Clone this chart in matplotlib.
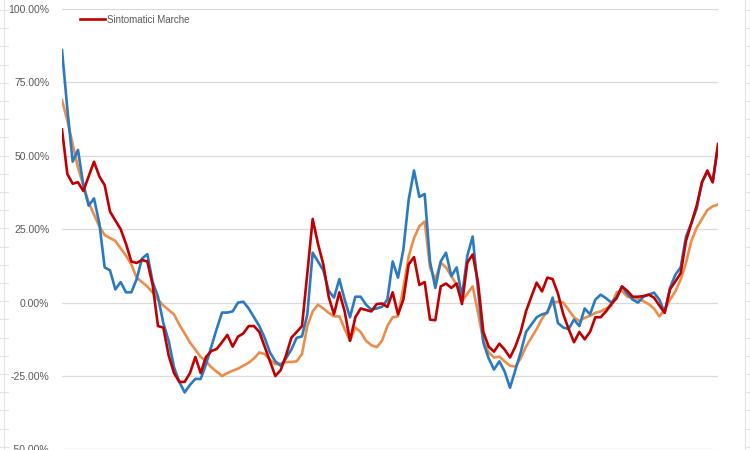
import matplotlib
matplotlib.use("Agg")
import matplotlib.pyplot as plt
from matplotlib.lines import Line2D
from matplotlib.ticker import FuncFormatter

# Series values (percent)
blue_vals = [86, 66, 48, 52, 40, 33, 35.5, 27, 12, 11, 4.5, 7, 3.5, 3.5, 8, 15, 16.5, 7, 2, -7,
             -13, -22, -27, -30.6, -28, -26, -26, -21, -15, -9, -3.4, -3.4, -3, 0, 0.3, -2, -5, -8, -12, -17,
             -20, -21.5, -19, -16, -12, -11.5, -4, 17, 14, 11, 4, 1.7, 8, 1, -5, 2, 2, -0.7, -2.4, -2,
             -1.4, 1, 14, 8.5, 18, 35, 45, 36, 37, 14, 5, 14, 17, 9, 12, 2, 16, 22.5, 4.4, -13.6,
             -19, -22.8, -20, -23.5, -29, -23, -17, -10, -7.5, -5, -4, -3.5, 1.7, -7, -8.5, -9, -5.8, -8, -2, -4,
             1, 2.7, 1.5, 0, 2, 5.5, 3, 1, 0, 2, 2.7, 3.4, 1, -3.4, 5, 9.5, 12, 22.5, 27, 32,
             41, 44.6, 41, 53]
orange_vals = [69, 62, 54, 46, 40, 34, 30, 26, 23, 22, 21, 18.5, 16, 13, 8.5, 7, 5.5, 3.4, 1, -1,
               -2.5, -4, -7.5, -10.5, -13.6, -16, -18.5, -20, -22, -23.5, -25, -24, -23.2, -22.5, -21.5, -20.5, -19, -17, -17.5, -19.5,
               -21, -20.8, -20.3, -20.2, -20, -17.5, -8, -3, -0.7, -2, -3.5, -4.7, -4.7, -9, -13, -8.5, -10, -13, -14.5, -15.2,
               -13, -8, -5, -4.7, 5, 15.7, 22, 26, 27.6, 12, 7.8, 13.6, 12, 9, 6, 0.5, 3, 5.5, -3.4, -13,
               -17, -18.7, -18.4, -20, -21.5, -21.8, -19, -15, -12, -9, -5.5, -3, 0, 0.3, 0, -2.5, -5, -6.3, -5.2, -4.5,
               -3.5, -3, -2, -1, 3.5, 4, 2, 1.7, 1.2, 0.5, -0.5, -2, -4.7, -2.4, 1, 3.8, 7.8, 13.5, 21, 25.5,
               28.5, 31.5, 32.8, 33.4]
red_vals = [59, 43.8, 40.5, 41, 38, 43, 48, 43, 40, 31, 28, 25, 20, 14, 13.5, 14.5, 14, 6, -8, -8.5,
            -18, -24, -27, -27, -24, -18.5, -24, -18.5, -16.5, -15.8, -13.5, -11, -15, -11.6, -10.5, -8, -8, -10, -15, -20,
            -25, -23, -18, -12, -10, -8, 10, 28.5, 20, 13, 2, -4, 3.5, -3, -13, -5, -2, -2.5, -3, -0.5,
            -0.3, -1.5, 3.5, -4, 1, 13, 15.5, 6, 7, -5.8, -6, 5.5, 6.5, 5, 6.5, -0.5, 13.6, 16.4, 7, -10,
            -15, -16.7, -14, -16, -18.7, -15, -10, -3, 2, 6.8, 3.8, 8.5, 8, 3, -4, -9, -13.5, -10, -12.5, -10,
            -5, -5, -3, -0.5, 1.5, 5.5, 4, 2, 2, 2.2, 2.7, 1.7, -1, -3.5, 4.5, 7.2, 10, 21, 27, 33,
            41, 45, 41, 54]
legend_label = "Sintomatici Marche"
y_ticks = [-50, -25, 0, 25, 50, 75, 100]

plt.rcParams['font.family'] = ['Liberation Sans', 'DejaVu Sans']

fig = plt.figure(figsize=(7.5, 4.5), dpi=100)
ax = fig.add_axes([62/750, 1 - 449.4/450, (718 - 62)/750, 440.4/450])

x = list(range(len(blue_vals)))
ax.plot(x, orange_vals, color='#EC8D4B', lw=1.9, solid_joinstyle='round', zorder=3)
ax.plot(x, blue_vals, color='#2A7AC0', lw=1.9, solid_joinstyle='round', zorder=4)
line_red, = ax.plot(x, red_vals, color='#C00000', lw=1.9, solid_joinstyle='round', zorder=5)

ax.set_xlim(0, len(blue_vals) - 1)
ax.set_ylim(-50, 100)
ax.set_yticks(y_ticks)
ax.yaxis.set_major_formatter(FuncFormatter(lambda v, p: f"{v:.2f}%"))
ax.set_xticks([])
ax.tick_params(axis='y', length=0, pad=9, labelsize=7.5, labelcolor='#595959')
ax.grid(axis='y', color='#D9D9D9', lw=0.9)
ax.set_axisbelow(True)
for s in ax.spines.values():
    s.set_visible(False)

leg = ax.legend([line_red], [legend_label], loc='upper left', bbox_to_anchor=(0.018, 1.0),
                frameon=False, fontsize=7, handlelength=2.6, handletextpad=0.2, borderaxespad=0.2)
for t in leg.get_texts():
    t.set_color('#595959')

# spreadsheet cell borders at the edges
gray = '#E3E3E3'
fig.add_artist(Line2D([3.5/750, 3.5/750], [0, 1], color=gray, lw=0.8))
fig.add_artist(Line2D([745/750, 745/750], [0, 1], color=gray, lw=0.8))
yy = 10
while yy < 450:
    fig.add_artist(Line2D([0, 8/750], [1 - yy/450, 1 - yy/450], color=gray, lw=0.8))
    fig.add_artist(Line2D([745/750, 1], [1 - yy/450, 1 - yy/450], color=gray, lw=0.8))
    yy += 18.2

fig.savefig('out.png', dpi=100)
